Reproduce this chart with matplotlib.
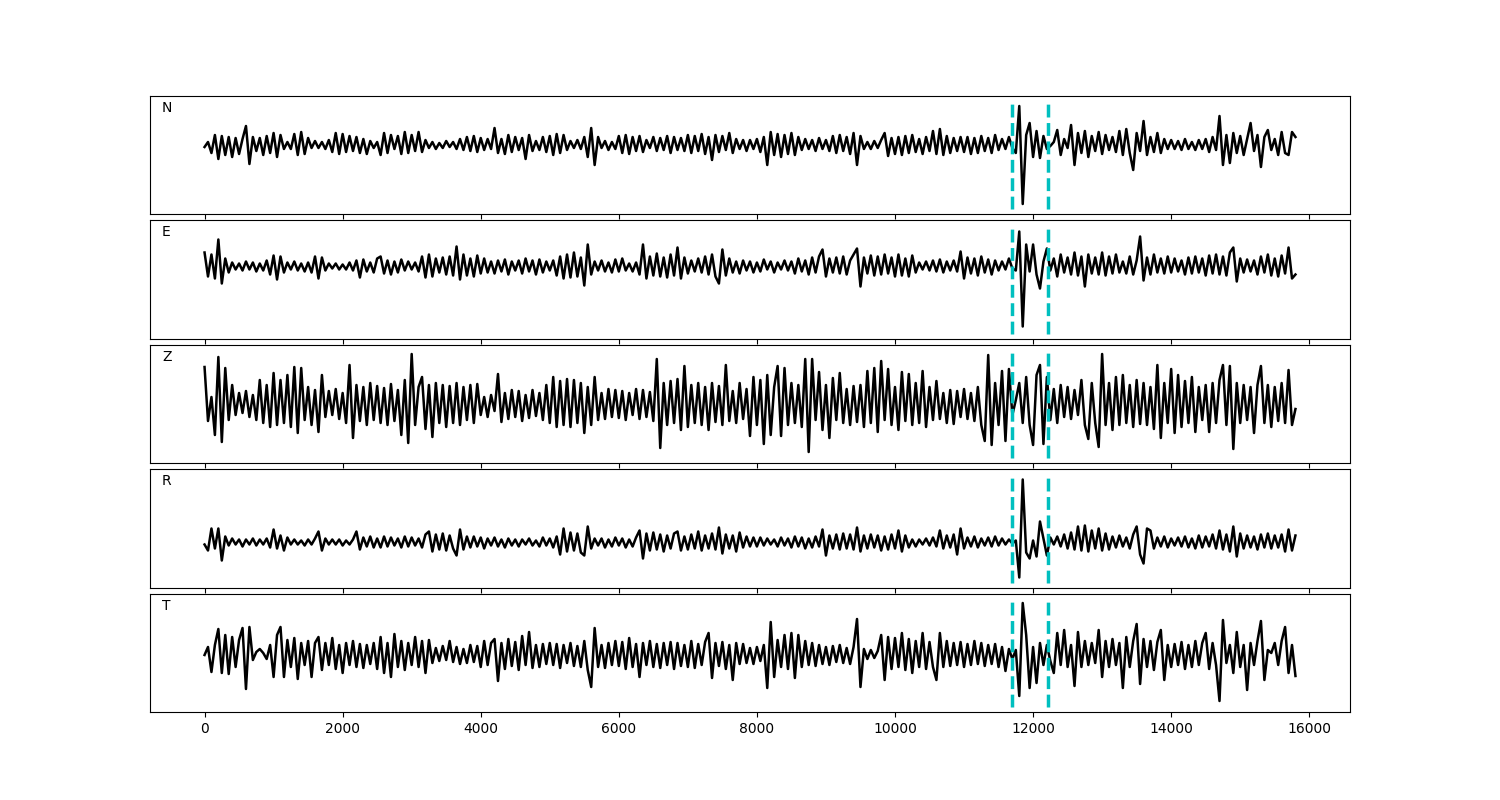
import numpy as np
import matplotlib
matplotlib.use('Agg')
import matplotlib.pyplot as plt

# sample spacing of the values below (one value every 50 samples)
step = 50

# picks (samples)
picks = [11700, 12210]

# channel labels
channels = ['N', 'E', 'Z', 'R', 'T']

# peak values, one row per 1000 samples
trace_n = [
    -2, 3, -8, 10, -14, 9, -10, 8, -12, 7, -9, 6, 19, -19, 8, -6, 7, -10, 9, -8,
    12, -12, 10, -4, 3, -4, 11, -10, 13, -9, 7, -3, 4, -3, 3, -4, 5, -7, 12, -9,
    11, -7, 9, -6, 8, -8, 6, -9, 4, -3, 3, -10, 12, -8, 10, -4, 9, -9, 13, -8,
    10, -6, 13, -7, 5, -3, 3, -4, 2, -3, 4, -2, 3, -4, 6, -5, 8, -6, 9, -7,
    7, -5, 6, -4, 17, -8, 6, -9, 10, -7, 8, -5, 7, -14, 10, -6, 4, -5, 8, -7,
    9, -10, 11, -8, 10, -5, 4, -3, 5, -4, 8, -12, 17, -20, 8, -3, 4, -5, 3, -4,
    9, -8, 10, -9, 8, -6, 9, -7, 5, -3, 8, -6, 7, -5, 9, -8, 8, -5, 7, -6,
    10, -8, 9, -6, 11, -9, 8, -15, 10, -7, 9, -5, 12, -8, 6, -4, 5, -6, 5, -4,
    6, -7, 8, -20, 13, -10, 11, -12, 10, -9, 12, -10, 8, -5, 6, -4, 5, -6, 7, -4,
    5, -6, 9, -8, 10, -6, 8, -9, 12, -20, 9, -4, 3, -4, 4, -3, 5, 12, -11, 7,
    -9, 8, -10, 9, -8, 10, -7, 6, -9, 8, -6, 14, -9, 16, -10, 9, -8, 7, -6, 8,
    -7, 8, -9, 7, -8, 9, -6, 7, -8, 10, -5, 6, -4, 8, -3, -8, 39, -59, 10, 22,
    -12, 14, -13, 9, -4, -1, 3, 15, -10, 6, -3, 20, -20, 12, -8, 14, -12, 9, -6, 13,
    -9, 10, -5, 8, -7, 14, -10, 16, -8, -25, 12, -6, 24, -10, 8, -7, 12, -8, 6, -4,
    5, -4, 4, -5, 6, -4, 3, -5, 5, -4, 6, -7, 8, -5, 29, -20, 10, -18, 12, -8,
    9, -10, 6, 22, -6, 10, -22, 8, 15, -5, 6, -10, 13, -8, -10, 13, 8,
]

trace_e = [
    14, -10, 12, -12, 27, -17, 8, -6, 4, -3, 3, -4, 5, -3, 4, -5, 3, -4, 6, -8,
    11, -13, 10, -6, 4, -3, 5, -4, 3, -5, 4, -6, 10, -12, 9, -4, 3, -2, 3, -3,
    2, -3, 4, -4, 6, -11, 7, -5, 4, -6, 8, 10, -7, 6, -8, 5, -6, 7, -4, 5,
    -3, 4, -5, 10, -11, 12, -10, 8, -6, 9, -8, 10, -9, 20, -13, 12, -9, 8, -10, 11,
    -7, 8, -6, 5, -7, 6, -5, 7, -8, 5, -4, 6, -7, 8, -5, 6, -8, 7, -6, 5,
    -4, 6, -9, 10, -12, 12, -11, 14, -10, 9, -19, 22, -8, 5, -4, 6, -5, 4, -6, 7,
    -5, 8, -4, 3, -5, 4, -8, 22, -12, 10, -9, 13, -10, 9, -11, 12, -9, 19, -12, 9,
    -7, 6, -5, 8, -6, 10, -8, 12, -10, -17, 17, -9, 8, -6, 5, -7, 6, -4, 5, -6,
    4, -5, 7, -3, 5, -6, 4, -3, 6, -4, 5, -7, 8, -5, 6, -8, 9, -6, 10, 17,
    -10, 8, -6, 9, -7, 10, -8, 6, 12, 18, -20, 9, -7, 11, -9, 10, -8, 12, -7, 9,
    -10, 12, -9, 8, -10, 11, -6, 4, -3, 5, -4, 6, -5, 7, -6, 5, -4, 6, -5, 15,
    -12, 9, -7, 8, -9, 10, -6, 7, -8, 6, -4, 5, -3, 8, -2, -4, 35, -60, 22, -5,
    22, -8, -22, 5, 18, -4, 8, -10, 12, -6, 9, -8, 14, -9, 10, -20, 12, -7, 9, -8,
    14, -9, 10, -7, 12, -6, 5, -7, 10, -8, 6, 30, -14, 9, -8, 12, -6, 8, -7, 10,
    -6, 8, -5, 6, -8, 9, -7, 10, -6, 8, -9, 11, -7, 12, -8, 10, -9, 14, 19, -15,
    8, -6, 7, -5, 6, -8, 10, -6, 12, -9, 8, -10, 11, -7, 19, -12, -8,
]

trace_z = [
    38, -16, 8, -30, 48, -37, 37, -15, 20, -10, 12, -8, 14, -12, 10, -15, 25, -18, 20, -22,
    32, -20, 25, -18, 30, -22, 38, -28, 37, -15, 18, -20, 15, -27, 30, -12, 14, -10, 16, -14,
    12, -18, 40, -33, 20, -16, 18, -20, 22, -15, 19, -18, 17, -20, 21, -16, 15, -30, 25, -38,
    51, -20, 18, 28, -24, 20, -32, 22, -18, 20, -22, 19, -18, 22, -20, 18, -15, 20, -18, 21,
    -10, 8, -12, 10, -6, 31, -17, 12, -14, 15, -12, 14, -16, 10, -13, 15, -11, 12, -15, 20,
    -18, 28, -22, 24, -20, 26, -22, 25, -18, 22, -28, 18, -20, 28, -15, 12, -14, 16, -12, 15,
    -13, 14, -15, 12, -10, 16, -14, 15, -12, 13, -16, 46, -43, 22, -20, 24, -18, 26, -25, 39,
    -22, 20, -18, 22, -20, 18, -25, 22, -17, 19, -20, 40, -16, 14, -18, 22, -14, 16, -31, 28,
    -20, 25, -39, 30, -30, 18, 39, -31, 37, -20, 22, -18, 20, -22, 46, -47, 46, -15, 33, -25,
    20, -33, 27, -15, 32, -18, 16, -20, 19, -17, 20, -22, 34, -18, 37, -27, 44, -15, 36, -20,
    18, -25, 33, -16, 31, -20, 22, -18, 34, -22, 18, -15, 24, -14, 12, -18, 15, -19, 14, -12,
    16, -14, 12, -16, 18, -20, -36, 50, -40, 22, -20, 34, -36, 36, -10, 5, 22, -18, 28, -20,
    -40, 30, 40, -39, 28, -15, 16, -18, 20, -12, 18, -14, 15, -10, 25, -20, -34, 22, -18, -42,
    51, -20, 22, -25, 28, -20, 30, -18, 20, -22, 25, -19, 22, -20, 18, -24, 40, -33, 22, -18,
    36, -28, 30, -22, 24, -18, 28, -27, 18, -15, 20, -27, 22, -18, 25, 40, -20, 39, -44, 22,
    -18, 20, -15, 18, -28, 20, 39, -18, 20, -22, 18, -16, 22, -18, 35, -20, -4,
]

trace_r = [
    -2, -8, 14, -6, 14, -18, 6, -3, 4, -2, 3, -4, 3, -2, 4, -3, 3, -2, 4, -5,
    13, -6, 7, -8, 5, -2, 3, -2, 2, -3, 3, -2, 4, 11, -8, 4, -2, 3, -2, 3,
    -3, 2, -2, 3, 11, -7, 5, -4, 6, -5, 4, -5, 6, -4, 5, -3, 4, -5, 6, -4,
    5, -3, 4, -5, 8, 11, -9, 8, -7, 9, -8, 7, -6, -13, 13, -7, 6, -5, 6, -4,
    5, -6, 4, -3, 5, -4, 3, -5, 4, -3, 3, -4, 3, -2, 4, -3, 2, -4, 5, -3,
    4, -5, 6, -12, 14, -9, 10, -8, 9, -10, -13, 16, -6, 4, -3, 4, -5, 3, -4, 5,
    -3, 4, -5, 3, -4, 5, 12, -16, 9, -8, 10, -7, 8, -9, 7, -6, 9, 11, -8, 6,
    -7, 8, -6, 11, -8, 7, -6, 9, -7, 15, -11, 8, -6, 7, -9, 10, -5, 6, -4, 5,
    -4, 5, -3, 4, -2, 3, -4, 5, -3, 4, -5, 6, -4, 5, -6, 4, -5, 6, -4, 13,
    -13, 7, -6, 8, -7, 9, -6, 8, -7, 15, -9, 7, -6, 8, -5, 7, -8, 6, -7, 8,
    -6, 12, -9, 7, -5, 3, -4, 3, -2, 4, -3, 5, -4, 12, -6, 7, -5, 8, -12, 14,
    -6, 5, -4, 6, -5, 4, -3, 5, -4, 6, -3, 4, -2, 3, -1, 2, -35, 63, -10, -16,
    2, -14, 21, 4, -13, 5, -2, 6, -4, 8, -6, 10, -7, 16, -8, 17, -9, 12, -6, 14,
    -8, 9, -7, 6, -5, 7, -4, 5, -6, 8, 16, -12, -21, 14, 12, -6, 5, -4, 6, -5,
    4, -3, 5, -4, 6, -5, 4, -6, 7, -5, 6, -4, 8, -6, 12, -7, 8, -9, 16, -14,
    9, -6, 7, -5, 6, -7, 8, -5, 9, -6, 7, -5, 8, -9, 13, -8, 7,
]

trace_t = [
    0, 8, -17, 10, 26, -18, 20, -19, 18, -12, 15, 27, -34, 28, -5, 3, 6, 2, -4, 10,
    -22, 20, 28, -22, 15, -12, 17, -24, 12, -10, 14, -22, 12, 18, -15, 12, -10, 17, -14, 10,
    -18, 12, -10, 14, -12, 11, -13, 10, -9, 12, -14, 18, -18, 12, -22, 21, -12, 14, -15, 12,
    -10, 18, -12, 14, -18, 15, -8, 7, -6, 9, -5, 14, -7, 8, -9, 6, -8, 10, -7, 9,
    -12, 14, -10, 12, 16, -26, 12, -14, 16, -11, 13, -15, 19, -10, 23, -13, 10, -12, 11, -9,
    12, -10, 11, -13, 10, -8, 12, -11, 9, -12, 14, -15, -32, 27, -12, 10, -13, 12, -10, 14,
    -11, 13, -14, 17, -12, 11, -22, 12, -10, 14, -12, 11, -13, 12, -10, 13, -14, 12, -11, 10,
    -12, 14, -13, 11, -10, 13, 22, -23, 12, -11, 13, -14, 10, -25, 12, -9, 11, -8, 7, -9,
    8, -6, 10, -33, 33, -22, 15, -12, 20, -14, 22, -23, 20, -12, 14, -10, 12, -11, 10, -9,
    8, -10, 9, -7, 10, -8, 7, -9, 8, 36, -32, 6, -4, 5, -3, 4, 20, -25, 18, -14,
    17, -12, 22, -15, 16, -18, 14, -12, 22, -14, 13, -12, -25, 22, -12, 14, -11, 12, -10, 13,
    -12, 11, -10, 14, -9, 12, -11, 10, -9, 11, -12, 8, -16, 6, -4, 5, -41, 52, 20, -33,
    8, -28, 12, -10, 10, -6, -18, 22, -10, 25, -12, 10, -31, 23, -12, 14, -10, 12, -8, 25,
    -22, 14, -12, 16, -10, 12, -33, 18, -12, 14, 31, -29, 16, -12, 14, -15, 13, 25, -25, 10,
    -12, 11, -10, 13, -14, 10, -12, 14, -10, 12, 22, -14, 12, -10, -46, 35, -8, 10, -18, 23,
    -12, 10, -35, 12, -10, 14, 34, -25, 5, 2, 12, -10, 14, 28, -18, 10, -21,
]

traces = [trace_n, trace_e, trace_z, trace_r, trace_t]

# y range of each panel (same units as the traces)
ylims = [(-69, 49), (-72, 46), (-58, 60), (-45, 73), (-57, 61)]

fig, axes = plt.subplots(5, 1, sharex=True, figsize=(15, 8))
plt.subplots_adjust(left=0.1, right=0.9, top=0.88, bottom=0.11, hspace=0.055)

for ax, name, tr, yl in zip(axes, channels, traces, ylims):
    y = np.array(tr, dtype=float)
    x = np.arange(len(y)) * step
    ax.plot(x, y, color='k', linewidth=1.8)
    for p in picks:
        ax.axvline(p, ymin=0.04, ymax=0.96, color='c', linestyle='--', linewidth=2.5)
    ax.set_ylim(yl)
    ax.set_yticks([])
    ax.text(0.01, 0.9, name, transform=ax.transAxes, fontsize=10, va='center')

plt.savefig('out.png', dpi=100)
